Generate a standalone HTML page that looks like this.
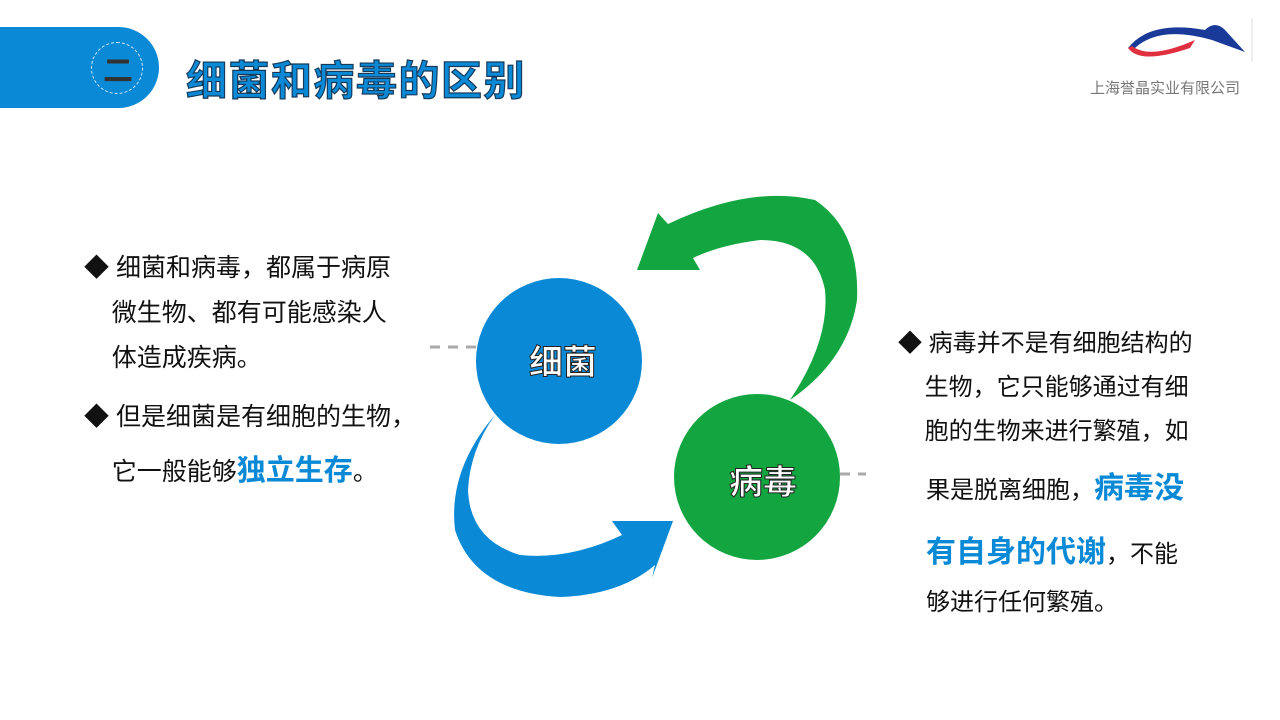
<!DOCTYPE html>
<html><head><meta charset="utf-8"><style>
body{margin:0;width:1280px;height:720px;background:#fff;overflow:hidden;position:relative;font-family:"Liberation Sans","Noto Sans CJK SC",sans-serif;}
.t{position:absolute;color:#111;font-size:25px;}
.b{color:#0a8ad6;font-weight:bold;font-size:29px;}
</style></head><body>
<div style="position:absolute;left:0;top:27px;width:159px;height:81px;background:#0a8ad6;border-radius:0 41px 41px 0;"></div>
<div style="position:absolute;left:91px;top:42px;width:50px;height:50px;border:1px dashed #cfe6f7;border-radius:50%;"></div>
<div style="position:absolute;left:92px;top:46px;width:52px;text-align:center;color:#333;font-size:30px;font-weight:bold;">二</div>
<div style="position:absolute;left:186px;top:47px;font-size:41px;font-weight:bold;color:#0a8ad6;-webkit-text-stroke:1.2px #163a5a;letter-spacing:1.5px;">细菌和病毒的区别</div>
<svg style="position:absolute;left:0;top:0" width="1280" height="720">
<path d="M1128 48 Q1150 20 1205 30 Q1215 20 1225 30 L1245 52 L1212 40 Q1160 25 1135 48 Z" fill="#1a3a9a"/>
<path d="M1128 48 Q1140 65 1190 48 L1195 40 Q1150 60 1132 46 Z" fill="#e03040"/>
<line x1="1252" y1="18" x2="1252" y2="62" stroke="#ddd"/>
<line x1="430" y1="347" x2="478" y2="347" stroke="#aaa" stroke-width="3" stroke-dasharray="10,8"/>
<line x1="840" y1="474" x2="866" y2="474" stroke="#aaa" stroke-width="3" stroke-dasharray="10,8"/>
<path d="M693 258 L700 270 L637 270 L658 213 L668 224 Q750 185 815 200 Q860 230 857 300 Q848 360 790 400 Q830 340 825 290 Q815 240 760 240 Q720 245 693 258 Z" fill="#13a640"/>
<path d="M495 415 Q448 470 455 530 Q475 592 560 597 Q620 595 655 565 L652 578 L673 521 L612 521 L622 535 Q570 560 520 555 Q470 540 468 490 Q470 450 495 415 Z" fill="#0a8ad6"/>
<circle cx="559" cy="361" r="83" fill="#0a8ad6"/>
<circle cx="757" cy="477" r="83" fill="#13a640"/>
<text x="563" y="374" text-anchor="middle" font-size="34" font-weight="bold" fill="#fff" stroke="#222" stroke-width="1" font-family="Liberation Sans,Noto Sans CJK SC,sans-serif">细菌</text>
<text x="763" y="494" text-anchor="middle" font-size="34" font-weight="bold" fill="#fff" stroke="#222" stroke-width="1" font-family="Liberation Sans,Noto Sans CJK SC,sans-serif">病毒</text>
</svg>
<div style="position:absolute;left:1090px;top:77px;font-size:15px;color:#777;">上海誉晶实业有限公司</div>
<div class="t" style="left:84px;top:246px;line-height:45px;width:360px;">◆ 细菌和病毒，都属于病原<br>&nbsp;&nbsp;&nbsp;&nbsp;微生物、都有可能感染人<br>&nbsp;&nbsp;&nbsp;&nbsp;体造成疾病。</div>
<div class="t" style="left:84px;top:390px;line-height:54px;width:380px;">◆ 但是细菌是有细胞的生物，<br>&nbsp;&nbsp;&nbsp;&nbsp;它一般能够<span class="b">独立生存</span>。</div>
<div class="t" style="left:898px;top:322px;line-height:44px;width:310px;font-size:24px;">◆ 病毒并不是有细胞结构的<br>&nbsp;&nbsp;&nbsp;&nbsp;生物，它只能够通过有细<br>&nbsp;&nbsp;&nbsp;&nbsp;胞的生物来进行繁殖，如</div>
<div class="t" style="left:926px;top:458px;line-height:62px;width:300px;font-size:24px;">果是脱离细胞，<span class="b" style="font-size:30px">病毒没</span><br><span class="b" style="font-size:30px">有自身的代谢</span>，不能</div>
<div class="t" style="left:926px;top:582px;font-size:24px;">够进行任何繁殖。</div>
</body></html>
